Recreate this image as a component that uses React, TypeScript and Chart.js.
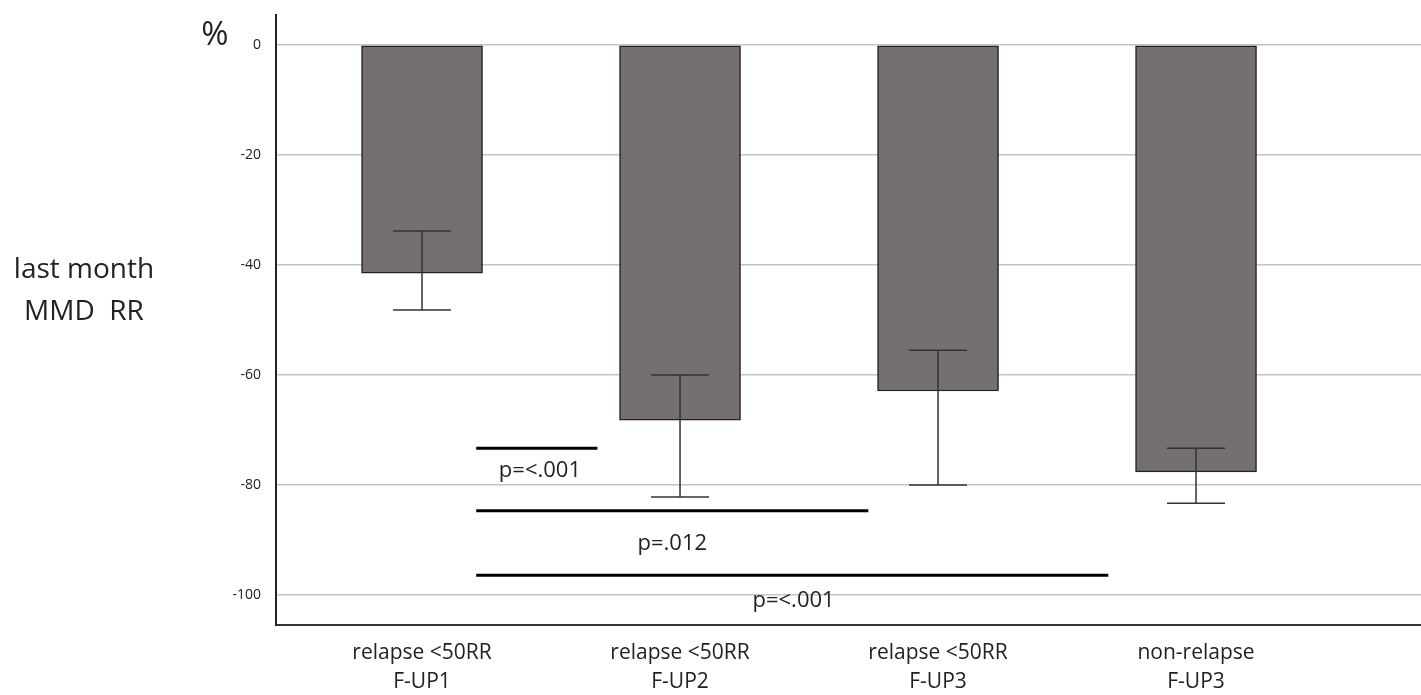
import React, { useEffect, useRef } from "react";
import { Chart, registerables } from "chart.js";

Chart.register(...registerables);

// ---- data ----
const categories: string[][] = [
  ["relapse <50RR", "F-UP1"],
  ["relapse <50RR", "F-UP2"],
  ["relapse <50RR", "F-UP3"],
  ["non-relapse", "F-UP3"],
];
const meanValues = [-41.5, -68.2, -62.9, -77.6];
const errUpper = [-33.8, -60.0, -55.5, -73.3];
const errLower = [-48.2, -82.2, -80.0, -83.3];
const yTicks = [0, -20, -40, -60, -80, -100];

// significance brackets: start x, end x (category units), y level
const sigStart = [0.21, 0.21, 0.21];
const sigEnd = [0.68, 1.73, 2.66];
const sigLevel = [-73.3, -84.7, -96.4];
const sigLabels = ["p=<.001", "p=.012", "p=<.001"];
const sigLabelX = [0.457, 0.97, 1.44];
const sigLabelY = [-77.4, -90.6, -101.0];

const FONT = "'Open Sans', 'Liberation Sans', sans-serif";

const overlayPlugin = {
  id: "overlay",
  afterDatasetsDraw(chart: any) {
    const ctx = chart.ctx;
    const xs = chart.scales.x;
    const ys = chart.scales.y;
    ctx.save();
    // error bars
    ctx.strokeStyle = "#333333";
    ctx.lineWidth = 1.5;
    meanValues.forEach((_, i) => {
      const cx = xs.getPixelForValue(i);
      const yt = ys.getPixelForValue(errUpper[i]);
      const yb = ys.getPixelForValue(errLower[i]);
      ctx.beginPath();
      ctx.moveTo(cx, yt);
      ctx.lineTo(cx, yb);
      ctx.moveTo(cx - 29, yt);
      ctx.lineTo(cx + 29, yt);
      ctx.moveTo(cx - 29, yb);
      ctx.lineTo(cx + 29, yb);
      ctx.stroke();
    });
    // significance lines
    ctx.strokeStyle = "#000000";
    ctx.lineWidth = 3;
    sigLevel.forEach((lv, i) => {
      const y = ys.getPixelForValue(lv);
      ctx.beginPath();
      ctx.moveTo(xs.getPixelForValue(sigStart[i]), y);
      ctx.lineTo(xs.getPixelForValue(sigEnd[i]), y);
      ctx.stroke();
    });
    ctx.fillStyle = "#222222";
    ctx.font = `22px ${FONT}`;
    ctx.textAlign = "center";
    ctx.textBaseline = "middle";
    sigLabels.forEach((t, i) => {
      ctx.fillText(t, xs.getPixelForValue(sigLabelX[i]), ys.getPixelForValue(sigLabelY[i]));
    });
    ctx.restore();
  },
  afterDraw(chart: any) {
    const ctx = chart.ctx;
    ctx.save();
    ctx.fillStyle = "#222222";
    ctx.textAlign = "center";
    ctx.textBaseline = "middle";
    ctx.font = `33px ${FONT}`;
    ctx.fillText("%", 215, 36);
    ctx.font = `28px ${FONT}`;
    ctx.fillText("last month", 84, 270);
    ctx.fillText("MMD  RR", 84, 312);
    ctx.restore();
  },
};

export default function App() {
  const ref = useRef<HTMLCanvasElement | null>(null);
  useEffect(() => {
    if (!ref.current) return;
    const chart = new Chart(ref.current, {
      type: "bar",
      data: {
        datasets: [
          {
            data: meanValues.map((v, i) => ({ x: i, y: v })),
            backgroundColor: "#75706f",
            borderColor: "#222222",
            borderWidth: 1.5,
            barThickness: 121,
            borderSkipped: false,
          },
        ],
      },
      options: {
        animation: false,
        responsive: true,
        maintainAspectRatio: false,
        layout: { padding: { top: 15, left: 0, right: 0, bottom: 0 } },
        plugins: { legend: { display: false }, tooltip: { enabled: false } },
        scales: {
          x: {
            type: "linear",
            min: -0.566,
            max: 3.872,
            offset: false,
            bounds: "data",
            grid: { display: false, drawTicks: false, offset: false },
            border: { display: true, color: "#333333", width: 2 },
            afterBuildTicks: (scale: any) => {
              scale.ticks = categories.map((_, i) => ({ value: i }));
            },
            afterFit: (scale: any) => {
              scale.height = 70;
              scale.paddingLeft = 0;
              scale.paddingRight = 0;
            },
            ticks: {
              autoSkip: false,
              maxRotation: 0,
              padding: 13,
              color: "#222222",
              font: { family: FONT, size: 21, lineHeight: 1.4 },
              callback: (v: any) => categories[Math.round(Number(v))] ?? "",
            },
          },
          y: {
            type: "linear",
            min: -105.45,
            max: 5.45,
            grid: { color: "#c4c4c4", lineWidth: 1.5, drawTicks: false },
            border: { display: true, color: "#222222", width: 2 },
            afterBuildTicks: (scale: any) => {
              scale.ticks = yTicks.map((v) => ({ value: v }));
            },
            afterFit: (scale: any) => {
              scale.width = 276;
              scale.paddingTop = 0;
              scale.paddingBottom = 0;
            },
            ticks: {
              padding: 15,
              color: "#222222",
              font: { family: FONT, size: 14 },
              callback: (v: any) => String(v),
            },
          },
        },
      },
      plugins: [overlayPlugin],
    } as any);
    return () => chart.destroy();
  }, []);
  return (
    <div style={{ position: "fixed", left: 0, top: 0, width: 1421, height: 695, background: "#fff" }}>
      <canvas ref={ref} />
    </div>
  );
}
